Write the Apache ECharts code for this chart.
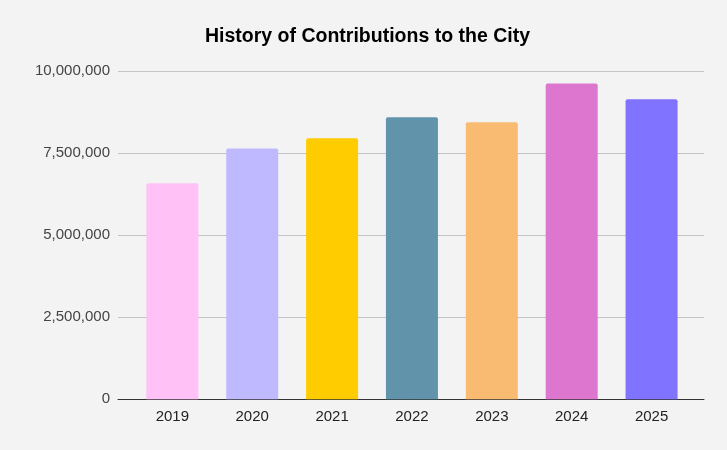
<!DOCTYPE html>
<html>
<head>
<meta charset="utf-8">
<script src="https://cdn.jsdelivr.net/npm/echarts@6/dist/echarts.min.js"></script>
<style>
html,body{margin:0;padding:0;background:#f3f3f3;}
#c{width:727px;height:450px;}
</style>
</head>
<body>
<div id="c"></div>
<script>
const years = ['2019','2020','2021','2022','2023','2024','2025'];
const contributions = [6585000, 7650000, 7960000, 8600000, 8445000, 9630000, 9146000];
const barColors = ['#FFC1F6','#BFB9FF','#FFCC00','#6194AB','#F9BB72','#DD76CE','#8073FF'];
const yTicks = [0, 2500000, 5000000, 7500000, 10000000];

const chart = echarts.init(document.getElementById('c'));
const font = 'Arial, "Liberation Sans", sans-serif';
chart.setOption({
  backgroundColor: '#f3f3f3',
  title: {
    text: 'History of Contributions to the City',
    left: 362.5, top: 22, textAlign: 'center',
    textStyle: {fontFamily: font, fontSize: 19.5, fontWeight: 'bold', color: '#000'}
  },
  grid: [
    {left: 118, right: 23, top: 71.3, bottom: 50.7},
    {left: 132.4, right: 35.5, top: 71.3, bottom: 50.7}
  ],
  xAxis: [
    {gridIndex: 0, type: 'category', data: [''], axisLine: {show: true, lineStyle: {color: '#333', width: 1}},
     axisTick: {show: false}, axisLabel: {show: false}},
    {gridIndex: 1, type: 'category', data: years, axisLine: {show: false}, axisTick: {show: false},
     axisLabel: {color: '#222', fontSize: 15, fontFamily: font, margin: 10}}
  ],
  yAxis: [
    {gridIndex: 0, type: 'value', min: yTicks[0], max: yTicks[yTicks.length-1], interval: yTicks[1]-yTicks[0],
     axisLine: {show: false}, axisTick: {show: false},
     splitLine: {lineStyle: {color: '#c4c4c4', width: 1}},
     axisLabel: {color: '#444', fontSize: 15, fontFamily: font, margin: 8,
       formatter: v => v.toLocaleString('en-US')}},
    {gridIndex: 1, type: 'value', min: yTicks[0], max: yTicks[yTicks.length-1], show: false, splitLine: {show: false}}
  ],
  series: [{
    type: 'bar', xAxisIndex: 1, yAxisIndex: 1,
    barWidth: 52,
    data: contributions.map((v, i) => ({value: v, itemStyle: {color: barColors[i], borderRadius: [2,2,0,0]}})),
    z: 3
  }]
});
</script>
</body>
</html>
